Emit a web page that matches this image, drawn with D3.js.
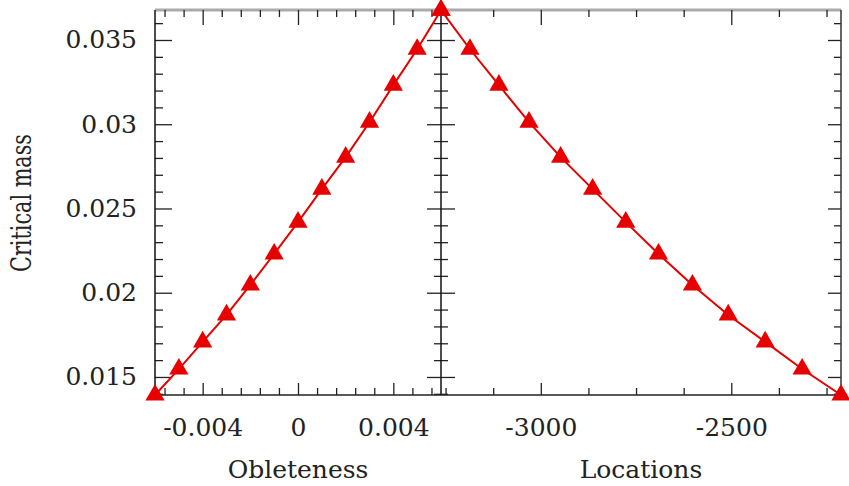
<!DOCTYPE html>
<html>
<head>
<meta charset="utf-8">
<script src="https://cdn.jsdelivr.net/npm/d3@7.9.0/dist/d3.min.js"></script>
<style>
  body { margin: 0; background: #fff; }
  text { font-family: "DejaVu Serif", serif; fill: #222; }
</style>
</head>
<body>
<svg id="chart" width="849" height="486"></svg>
<script>
// left panel: critical mass vs obleteness
const obleteness = [-0.006, -0.005, -0.004, -0.003, -0.002, -0.001, 0,
                    0.001, 0.002, 0.003, 0.004, 0.005, 0.006];
const massOb = [0.01393, 0.01547, 0.01708, 0.01868, 0.02046, 0.02230, 0.02419,
                0.02615, 0.02805, 0.03012, 0.03232, 0.03445, 0.03677];

// right panel: critical mass vs locations
const locations = [-3262, -3186, -3110, -3031, -2948, -2864, -2777,
                   -2691, -2602, -2508, -2411, -2314, -2212];
const massLoc = [0.03677, 0.03445, 0.03232, 0.03012, 0.02805, 0.02615, 0.02419,
                 0.02230, 0.02046, 0.01868, 0.01708, 0.01547, 0.01393];

const yTicks = [0.015, 0.02, 0.025, 0.03, 0.035];
const obTicks = [-0.004, 0, 0.004];
const locTicks = [-3000, -2500];

const svg = d3.select('#chart');
const pLeft = 155, pMid = 441, pRight = 841, pTop = 10, pBottom = 395;

const y = d3.scaleLinear().domain([0.01393, 0.03678]).range([pBottom, pTop]);
const xL = d3.scaleLinear().domain([-0.006, 0.006]).range([pLeft, pMid]);
const xR = d3.scaleLinear().domain([-3262, -2212]).range([pMid, pRight]);

// minor tick values
let yMinor = d3.range(14, 37).map(d => d / 1000).filter(v => !yTicks.some(t => Math.abs(t - v) < 1e-9));
let obMinor = d3.range(-7, 8).map(d => d * 0.0008).filter(v => Math.abs(v) <= 0.006 && !obTicks.some(t => Math.abs(t - v) < 1e-9));
let locMinor = d3.range(-3250, -2200, 125).filter(v => !locTicks.includes(v));

const plain = d => String(d);

function tickAxis(axis, g) {
  g.call(axis);
  g.select('.domain').remove();
  g.selectAll('.tick line').attr('stroke', '#222').attr('stroke-width', 1.3);
  g.selectAll('text').attr('font-size', 25).attr('fill', '#222').attr('font-family', '"DejaVu Serif", serif');
}
const at = (x, yy) => svg.append('g').attr('transform', `translate(${x},${yy})`);

// top grey line
svg.append('line').attr('x1', pLeft).attr('x2', pRight).attr('y1', pTop).attr('y2', pTop)
  .attr('stroke', '#aaa').attr('stroke-width', 3);

// left y axis
tickAxis(d3.axisLeft(y).tickValues(yTicks).tickSizeInner(-17).tickSizeOuter(0).tickPadding(18)
  .tickFormat(plain), at(pLeft, 0));
tickAxis(d3.axisLeft(y).tickValues(yMinor).tickSizeInner(-8).tickSizeOuter(0).tickFormat(''), at(pLeft, 0));

// divider ticks on both sides
tickAxis(d3.axisLeft(y).tickValues(yTicks).tickSizeInner(14).tickSizeOuter(0).tickFormat(''), at(pMid, 0));
tickAxis(d3.axisRight(y).tickValues(yTicks).tickSizeInner(14).tickSizeOuter(0).tickFormat(''), at(pMid, 0));
tickAxis(d3.axisLeft(y).tickValues(yMinor).tickSizeInner(7).tickSizeOuter(0).tickFormat(''), at(pMid, 0));
tickAxis(d3.axisRight(y).tickValues(yMinor).tickSizeInner(7).tickSizeOuter(0).tickFormat(''), at(pMid, 0));

// right edge ticks
tickAxis(d3.axisRight(y).tickValues(yTicks).tickSizeInner(-13).tickSizeOuter(0).tickFormat(''), at(pRight, 0));
tickAxis(d3.axisRight(y).tickValues(yMinor).tickSizeInner(-7).tickSizeOuter(0).tickFormat(''), at(pRight, 0));

// bottom axes
tickAxis(d3.axisBottom(xL).tickValues(obTicks).tickSizeInner(-12).tickSizeOuter(0).tickPadding(23)
  .tickFormat(plain), at(0, pBottom));
tickAxis(d3.axisBottom(xL).tickValues(obMinor).tickSizeInner(-7).tickSizeOuter(0).tickFormat(''), at(0, pBottom));
tickAxis(d3.axisBottom(xR).tickValues(locTicks).tickSizeInner(-12).tickSizeOuter(0).tickPadding(23)
  .tickFormat(plain), at(0, pBottom));
tickAxis(d3.axisBottom(xR).tickValues(locMinor).tickSizeInner(-7).tickSizeOuter(0).tickFormat(''), at(0, pBottom));

// top ticks
tickAxis(d3.axisTop(xL).tickValues(obTicks).tickSizeInner(-15).tickSizeOuter(0).tickFormat(''), at(0, pTop));
tickAxis(d3.axisTop(xL).tickValues(obMinor).tickSizeInner(-7).tickSizeOuter(0).tickFormat(''), at(0, pTop));
tickAxis(d3.axisTop(xR).tickValues(locTicks).tickSizeInner(-15).tickSizeOuter(0).tickFormat(''), at(0, pTop));
tickAxis(d3.axisTop(xR).tickValues(locMinor).tickSizeInner(-7).tickSizeOuter(0).tickFormat(''), at(0, pTop));

// frame lines
svg.append('line').attr('x1', pLeft).attr('x2', pLeft).attr('y1', pTop).attr('y2', pBottom).attr('stroke', '#111').attr('stroke-width', 1.5);
svg.append('line').attr('x1', pMid).attr('x2', pMid).attr('y1', pTop).attr('y2', pBottom).attr('stroke', '#111').attr('stroke-width', 1.5);
svg.append('line').attr('x1', pRight).attr('x2', pRight).attr('y1', pTop).attr('y2', pBottom).attr('stroke', '#333').attr('stroke-width', 1.5);
svg.append('line').attr('x1', pLeft).attr('x2', pRight).attr('y1', pBottom).attr('y2', pBottom).attr('stroke', '#222').attr('stroke-width', 1.5);

// series
const red = '#e60000';
function drawSeries(xs, ys, x) {
  const pts = xs.map((d, i) => [x(d), y(ys[i])]);
  svg.append('path').attr('d', d3.line()(pts)).attr('fill', 'none')
    .attr('stroke', red).attr('stroke-width', 2);
  svg.append('g').selectAll('path').data(pts).join('path')
    .attr('transform', d => `translate(${d[0]},${d[1]})`)
    .attr('d', d3.symbol(d3.symbolTriangle, 160))
    .attr('fill', red);
}
drawSeries(obleteness, massOb, xL);
drawSeries(locations, massLoc, xR);

// axis titles
svg.append('text').attr('x', (pLeft + pMid) / 2).attr('y', 478).attr('text-anchor', 'middle')
  .attr('font-size', 25).text('Obleteness');
svg.append('text').attr('x', (pMid + pRight) / 2).attr('y', 478).attr('text-anchor', 'middle')
  .attr('font-size', 25).text('Locations');
svg.append('text').attr('transform', 'translate(31,203) rotate(-90)').attr('text-anchor', 'middle')
  .attr('font-family', '"Liberation Serif", serif').attr('font-size', 27)
  .attr('textLength', 138).attr('lengthAdjust', 'spacingAndGlyphs').text('Critical mass');
</script>
</body>
</html>
